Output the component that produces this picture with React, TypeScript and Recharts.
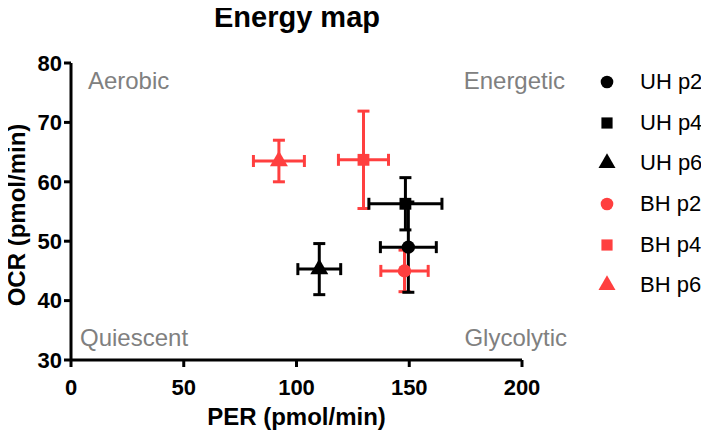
import * as React from "react";
import {
  ScatterChart,
  Scatter,
  XAxis,
  YAxis,
  ErrorBar,
  Legend,
  ReferenceDot,
  Symbols,
} from "recharts";

const FONT = "'Liberation Sans', Arial, Helvetica, sans-serif";
const BLACK = "#000000";
const RED = "#ff3f3f";
const GREY = "#808080";

// series, in legend order
const seriesNames = ["UH p2", "UH p4", "UH p6", "BH p2", "BH p4", "BH p6"];
const seriesShapes = ["circle", "square", "triangle", "circle", "square", "triangle"] as const;
const seriesColors = [BLACK, BLACK, BLACK, RED, RED, RED];

// PER (x) and OCR (y), mean and error
const perMean = [149.6, 148.3, 110.1, 147.9, 129.7, 92.2];
const perErr = [12.4, 16.2, 9.5, 10.5, 11.1, 11.3];
const ocrMean = [49.0, 56.3, 45.3, 45.0, 63.7, 63.5];
const ocrErr = [7.6, 4.4, 4.3, 3.5, 8.2, 3.5];

const xTicks = [0, 50, 100, 150, 200];
const yTicks = [30, 40, 50, 60, 70, 80];

const series = seriesNames.map((name, i) => ({
  name,
  shape: seriesShapes[i],
  color: seriesColors[i],
  data: [{ per: perMean[i], ocr: ocrMean[i], perErr: perErr[i], ocrErr: ocrErr[i] }],
}));

// red drawn first so black sits on top, as in the original
const drawOrder = [3, 4, 5, 0, 1, 2];

const MARKER_SIZE = 140;

const QuadLabel = (props: any) => {
  const vb = props.viewBox || {};
  return (
    <text
      x={vb.x}
      y={vb.y}
      textAnchor={props.anchor}
      fill={GREY}
      fontSize={24}
      fontFamily={FONT}
    >
      {props.text}
    </text>
  );
};

// rotated y-axis title
const YLabel = () => (
  <text
    transform="translate(25,215) rotate(-90)"
    textAnchor="middle"
    fontSize={24}
    fontWeight="bold"
    fontFamily={FONT}
    fill={BLACK}
  >
    OCR (pmol/min)
  </text>
);

const LegendBox = () => (
  <div style={{ fontFamily: FONT, fontSize: 22, color: BLACK }}>
    {series.map((s) => (
      <div
        key={s.name}
        style={{ height: 40.6, display: "flex", alignItems: "center", whiteSpace: "nowrap" }}
      >
        <svg width={43} height={20} style={{ flex: "none" }}>
          <Symbols cx={10} cy={10} type={s.shape} size={125} fill={s.color} />
        </svg>
        <span>{s.name}</span>
      </div>
    ))}
  </div>
);

export default function App() {
  return (
    <div style={{ position: "relative", width: 709, height: 438, margin: -8, background: "#fff" }}>
      <div
        style={{
          position: "absolute",
          left: 147,
          width: 300,
          top: 0,
          textAlign: "center",
          fontFamily: FONT,
          fontWeight: "bold",
          fontSize: 29,
          lineHeight: "34px",
          zIndex: 2,
        }}
      >
        Energy map
      </div>
      <ScatterChart
        width={709}
        height={438}
        margin={{ top: 63, right: 187, bottom: 0, left: 0 }}
        style={{ fontFamily: FONT }}
      >
        <XAxis
          type="number"
          dataKey="per"
          domain={[0, 200]}
          ticks={xTicks}
          height={78}
          axisLine={{ stroke: BLACK, strokeWidth: 3 }}
          tickLine={{ stroke: BLACK, strokeWidth: 3 }}
          tickSize={7}
          tickMargin={12}
          tick={{ fontSize: 22, fontWeight: "bold", fill: BLACK, fontFamily: FONT }}
          label={{
            value: "PER (pmol/min)",
            position: "insideBottom",
            offset: 13,
            fontSize: 24,
            fontWeight: "bold",
            fill: BLACK,
            fontFamily: FONT,
          }}
        />
        <YAxis
          type="number"
          dataKey="ocr"
          domain={[30, 80]}
          ticks={yTicks}
          width={71}
          axisLine={{ stroke: BLACK, strokeWidth: 3 }}
          tickLine={{ stroke: BLACK, strokeWidth: 3 }}
          tickSize={7}
          tickMargin={2}
          tick={{ fontSize: 22, fontWeight: "bold", fill: BLACK, fontFamily: FONT }}
          label={<YLabel />}
        />
        <ReferenceDot x={7.5} y={75.6} r={0} fill="none" stroke="none" ifOverflow="visible"
          label={<QuadLabel text="Aerobic" anchor="start" />} />
        <ReferenceDot x={219.1} y={75.6} r={0} fill="none" stroke="none" ifOverflow="visible"
          label={<QuadLabel text="Energetic" anchor="end" />} />
        <ReferenceDot x={4} y={32.4} r={0} fill="none" stroke="none" ifOverflow="visible"
          label={<QuadLabel text="Quiescent" anchor="start" />} />
        <ReferenceDot x={220} y={32.4} r={0} fill="none" stroke="none" ifOverflow="visible"
          label={<QuadLabel text="Glycolytic" anchor="end" />} />
        {drawOrder.map((i) => {
          const s = series[i];
          return (
            <Scatter
              key={s.name}
              name={s.name}
              data={s.data}
              fill={s.color}
              isAnimationActive={false}
              shape={(p: any) => (
                <Symbols cx={p.cx} cy={p.cy} type={s.shape} size={MARKER_SIZE} fill={s.color} />
              )}
            >
              <ErrorBar dataKey="perErr" direction="x" width={6} strokeWidth={3} stroke={s.color} />
              <ErrorBar dataKey="ocrErr" direction="y" width={6} strokeWidth={3} stroke={s.color} />
            </Scatter>
          );
        })}
        <Legend
          layout="vertical"
          align="center"
          verticalAlign="middle"
          content={() => <LegendBox />}
          wrapperStyle={{ left: 597, top: 62, width: 112 }}
        />
      </ScatterChart>
    </div>
  );
}
